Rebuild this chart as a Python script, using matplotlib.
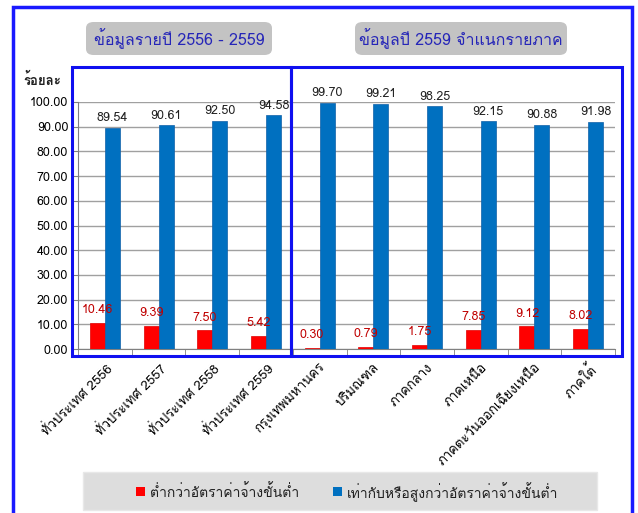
import numpy as np
import matplotlib
matplotlib.use('Agg')
import matplotlib.pyplot as plt
from matplotlib.patches import Rectangle, FancyBboxPatch

plt.rcParams['font.family'] = ['Loma', 'DejaVu Sans']

# ข้อมูล
categories = ['ทั่วประเทศ 2556', 'ทั่วประเทศ 2557', 'ทั่วประเทศ 2558', 'ทั่วประเทศ 2559',
              'กรุงเทพมหานคร', 'ปริมณฑล', 'ภาคกลาง', 'ภาคเหนือ',
              'ภาคตะวันออกเฉียงเหนือ', 'ภาคใต้']
below_min = [10.46, 9.39, 7.50, 5.42, 0.30, 0.79, 1.75, 7.85, 9.12, 8.02]
at_or_above = [89.54, 90.61, 92.50, 94.58, 99.70, 99.21, 98.25, 92.15, 90.88, 91.98]
yticks = np.arange(0, 101, 10)

label_below = 'ต่ำกว่าอัตราค่าจ้างขั้นต่ำ'
label_above = 'เท่ากับหรือสูงกว่าอัตราค่าจ้างขั้นต่ำ'
title_left = 'ข้อมูลรายปี 2556 - 2559'
title_right = 'ข้อมูลปี 2559 จำแนกรายภาค'
ylabel = 'ร้อยละ'

W, H = 638, 513
fig = plt.figure(figsize=(W / 100, H / 100), dpi=100)

def fx(px):
    return px / W

def fy(py):
    return 1 - py / H

ax = fig.add_axes([fx(78), fy(349), fx(615) - fx(78), fy(102) - fy(349)])

x = np.arange(len(categories))
w = 0.28
red = '#FF0000'
blue = '#0070C0'
ax.bar(x - w / 2, below_min, w, color=red, edgecolor='#E00000', linewidth=0.5, zorder=3)
ax.bar(x + w / 2, at_or_above, w, color=blue, edgecolor='#1060A8', linewidth=0.5, zorder=3)

for i in range(len(categories)):
    ax.annotate('%.2f' % below_min[i], (x[i] - w / 2, below_min[i]), xytext=(0, 5),
                textcoords='offset points', ha='center', va='bottom',
                fontsize=9, color='#C00000', annotation_clip=False)
    ax.annotate('%.2f' % at_or_above[i], (x[i] + w / 2, at_or_above[i]), xytext=(0, 2.5),
                textcoords='offset points', ha='center', va='bottom',
                fontsize=9, color='#202020', annotation_clip=False)

ax.set_xlim(-0.5, len(categories) - 0.5)
ax.set_ylim(0, 100)
ax.set_yticks(yticks)
ax.set_yticklabels(['%.2f' % v for v in yticks], fontsize=9)
ax.yaxis.grid(True, color='#A0A0A0', linewidth=1)
ax.set_axisbelow(True)

ax.set_xticks(x)
ax.set_xticklabels(categories, rotation=45, ha='right', rotation_mode='anchor', fontsize=9.5)
ax.tick_params(axis='x', which='major', length=0, pad=9)
ax.set_xticks(np.arange(len(categories) + 1) - 0.5, minor=True)
ax.tick_params(axis='x', which='minor', length=5, color='#808080', direction='out')
ax.tick_params(axis='y', length=5, color='#808080', direction='out', pad=2)

for s in ['top', 'right']:
    ax.spines[s].set_visible(False)
ax.spines['left'].set_color('#808080')
ax.spines['bottom'].set_color('#808080')

# กรอบสีน้ำเงิน
frame = '#1A1AFF'
fig.patches.append(Rectangle((fx(13), fy(515)), fx(632) - fx(13), fy(7) - fy(515),
                             fill=False, edgecolor=frame, linewidth=2.5,
                             transform=fig.transFigure, clip_on=False))
fig.patches.append(Rectangle((fx(72), fy(356)), fx(291) - fx(72), fy(67) - fy(356),
                             fill=False, edgecolor='#1010F0', linewidth=2.2,
                             transform=fig.transFigure, zorder=5))
fig.patches.append(Rectangle((fx(291), fy(356)), fx(622) - fx(291), fy(67) - fy(356),
                             fill=False, edgecolor='#1010F0', linewidth=2.2,
                             transform=fig.transFigure, zorder=5))

# หัวข้อ
for x0, x1, txt in [(86, 272, title_left), (355, 567, title_right)]:
    fig.patches.append(FancyBboxPatch((fx(x0), fy(55)), fx(x1) - fx(x0), fy(22) - fy(55),
                                      boxstyle='round,pad=0,rounding_size=0.012',
                                      facecolor='#C3C3C3', edgecolor='none',
                                      transform=fig.transFigure))
    fig.text(fx((x0 + x1) / 2), fy(39), txt, ha='center', va='center',
             fontsize=11.5, color='#2626B8')

fig.text(fx(42), fy(80), ylabel, ha='center', va='center', fontsize=9.5,
         fontweight='bold', color='#202020')

# คำอธิบาย
fig.patches.append(Rectangle((fx(83), fy(510)), fx(597) - fx(83), fy(472) - fy(510),
                             facecolor='#DDDDDD', edgecolor='#E8E8E8', linewidth=1,
                             transform=fig.transFigure))
for sx, col, txt in [(136, red, label_below), (333, blue, label_above)]:
    fig.patches.append(Rectangle((fx(sx), fy(496)), fx(9), fy(487) - fy(496),
                                 facecolor=col, edgecolor='none', transform=fig.transFigure))
    fig.text(fx(sx + 14), fy(492), txt, ha='left', va='center', fontsize=10, color='#202020')

fig.savefig('out.png', dpi=100)
